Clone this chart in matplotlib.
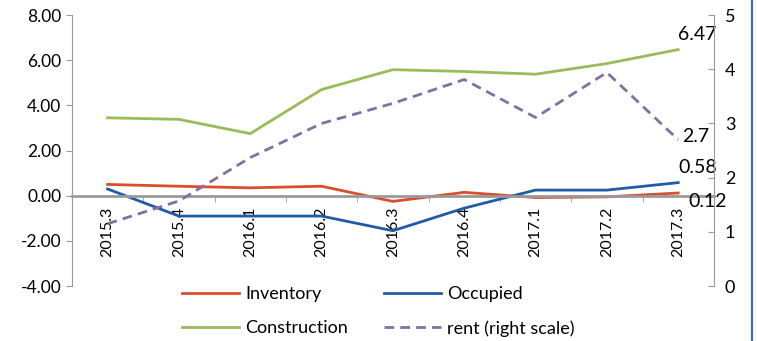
import matplotlib
matplotlib.use("Agg")
import matplotlib.pyplot as plt
from matplotlib.lines import Line2D
from matplotlib.ticker import FormatStrFormatter, FixedLocator

plt.rcParams["font.family"] = ["Lato", "DejaVu Sans"]

quarters = ["2015.3", "2015.4", "2016.1", "2016.2", "2016.3",
            "2016.4", "2017.1", "2017.2", "2017.3"]
inventory = [0.50, 0.42, 0.35, 0.42, -0.25, 0.15, -0.08, -0.05, 0.12]
occupied = [0.30, -0.90, -0.90, -0.90, -1.55, -0.55, 0.25, 0.25, 0.58]
construction = [3.45, 3.38, 2.75, 4.70, 5.58, 5.50, 5.38, 5.85, 6.47]
rent = [1.15, 1.57, 2.37, 3.00, 3.37, 3.81, 3.11, 3.94, 2.70]

c_inv = "#DA4F2B"
c_occ = "#1F5CA6"
c_con = "#9BBB59"
c_rent = "#8270A0"
grey = "#9A9A9A"

fig = plt.figure(figsize=(7.57, 3.41), dpi=100)
ax = fig.add_axes([0.095, 0.161, 0.848, 0.795])
x = list(range(len(quarters)))

ax.plot(x, inventory, color=c_inv, lw=2.0, label="Inventory")
ax.plot(x, occupied, color=c_occ, lw=2.0, label="Occupied")
ax.plot(x, construction, color=c_con, lw=2.0, label="Construction")

ax2 = ax.twinx()
ax2.plot(x, rent, color=c_rent, lw=2.0, ls=(0, (3.5, 2.2)), label="rent (right scale)")

ax.set_xlim(-0.5, len(quarters) - 0.5)
ax.set_ylim(-4, 8)
ax.set_yticks([-4, -2, 0, 2, 4, 6, 8])
ax.yaxis.set_major_formatter(FormatStrFormatter("%.2f"))
ax2.set_ylim(0, 5)
ax2.set_yticks([0, 1, 2, 3, 4, 5])

# category axis sits on the zero line, ticks between categories
ax.spines["bottom"].set_position(("data", 0))
ax.spines["bottom"].set_color(grey)
ax.spines["bottom"].set_linewidth(2.0)
ax.spines["left"].set_color(grey)
ax.spines["top"].set_visible(False)
ax.spines["right"].set_visible(False)
for s in ("top", "left", "bottom"):
    ax2.spines[s].set_visible(False)
ax2.spines["right"].set_color(grey)

ax.set_xticks(x)
ax.set_xticklabels(quarters, rotation=90, fontsize=11.5)
ax.tick_params(axis="x", which="major", length=0, pad=8)
ax.xaxis.set_minor_locator(FixedLocator([i + 0.5 for i in x[:-1]]))
ax.tick_params(axis="x", which="minor", length=4, color=grey, direction="out")
ax.tick_params(axis="y", length=4, color=grey, labelsize=12.5, direction="out")
ax2.tick_params(axis="y", length=4, color=grey, labelsize=13, direction="in", pad=8)

# end-of-series value labels
last = len(quarters) - 1
ax.annotate(f"{construction[-1]:.2f}", (last, construction[-1]), xytext=(0, 5),
            textcoords="offset points", fontsize=14, va="bottom")
ax2.annotate(f"{rent[-1]:g}", (last, rent[-1]), xytext=(3, 2),
             textcoords="offset points", fontsize=14, va="center")
ax.annotate(f"{occupied[-1]:.2f}", (last, occupied[-1]), xytext=(0, 5),
            textcoords="offset points", fontsize=14, va="bottom")
ax.annotate(f"{inventory[-1]:.2f}", (last, inventory[-1]), xytext=(7, -6),
            textcoords="offset points", fontsize=14, va="center")

h1, l1 = ax.get_legend_handles_labels()
h2, l2 = ax2.get_legend_handles_labels()
handles = [h1[0], h1[2], h1[1], h2[0]]
labels = [l1[0], l1[2], l1[1], l2[0]]
fig.legend(handles, labels, ncol=2, loc="lower left", bbox_to_anchor=(0.219, -0.035),
           frameon=False, fontsize=13, handlelength=3.15, handletextpad=0.35,
           columnspacing=2.0, labelspacing=1.0)

fig.add_artist(Line2D([0.993, 0.993], [0, 1], transform=fig.transFigure,
                      color="#3A72C4", lw=1.6))

fig.savefig("out.png", dpi=100)
